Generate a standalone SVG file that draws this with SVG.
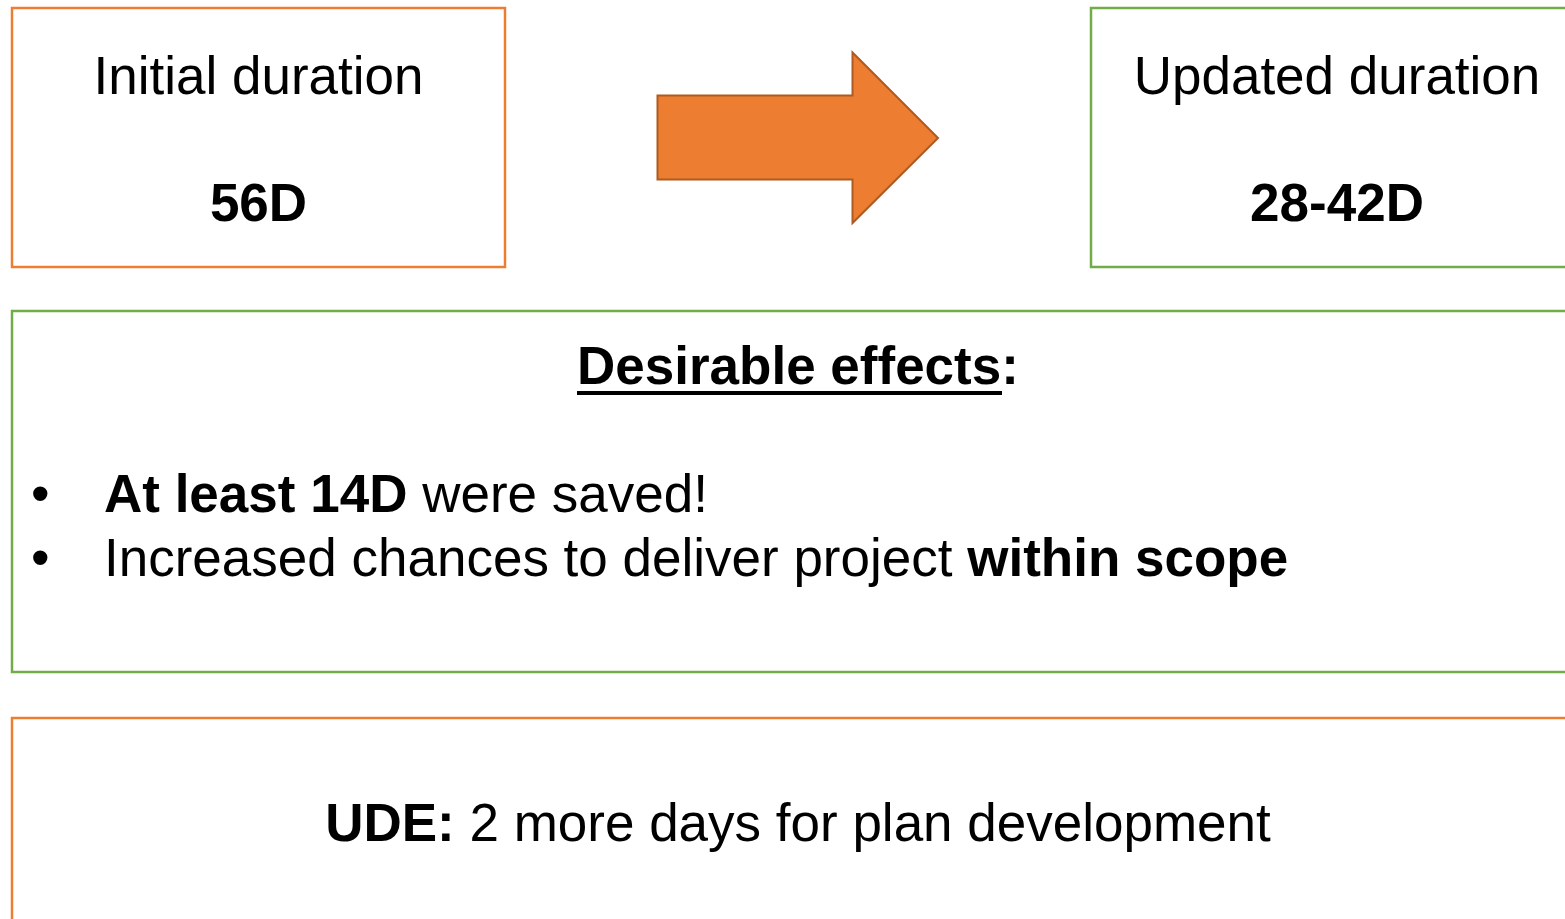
<svg xmlns="http://www.w3.org/2000/svg" width="1565" height="919" viewBox="0 0 1565 919">
<style>
.t{font-family:"Liberation Sans",Arial,sans-serif;font-size:53px;fill:#000}
.b{font-weight:bold}
.og{fill:#fff;stroke:#ED7D31;stroke-width:2.5}
.gr{fill:#fff;stroke:#70AD47;stroke-width:2.5}
</style>
<rect width="1565" height="919" fill="#fff"/>
<g id="initial">
<rect class="og" x="12" y="8" width="493" height="259"/>
<text class="t" x="258.5" y="94" text-anchor="middle">Initial duration</text>
<text class="t b" x="258.5" y="221" text-anchor="middle">56D</text>
</g>
<g id="connectors">
<path d="M657.5,95.5 H852.5 V52.5 L938,138 L852.5,223 V179.5 H657.5 Z" fill="#ED7D31" stroke="#AE5A21" stroke-width="2"/>
</g>
<g id="updated">
<rect class="gr" x="1091" y="8" width="490" height="259"/>
<text class="t" x="1337" y="94" text-anchor="middle">Updated duration</text>
<text class="t b" x="1337" y="221" text-anchor="middle">28-42D</text>
</g>
<g id="effects">
<rect class="gr" x="12" y="311" width="1570" height="361"/>
<text class="t b" x="577" y="384">Desirable effects:</text>
<rect x="577" y="391" width="425" height="4" fill="#000"/>
<text class="t" x="31" y="512">•</text>
<text class="t" x="104" y="512"><tspan class="b">At least 14D</tspan> were saved!</text>
<text class="t" x="31" y="576">•</text>
<text class="t" x="104" y="576">Increased chances to deliver project <tspan class="b">within scope</tspan></text>
</g>
<g id="ude">
<rect class="og" x="12" y="718" width="1570" height="220"/>
<text class="t" x="798" y="841" text-anchor="middle"><tspan class="b">UDE:</tspan> 2 more days for plan development</text>
</g>
</svg>
